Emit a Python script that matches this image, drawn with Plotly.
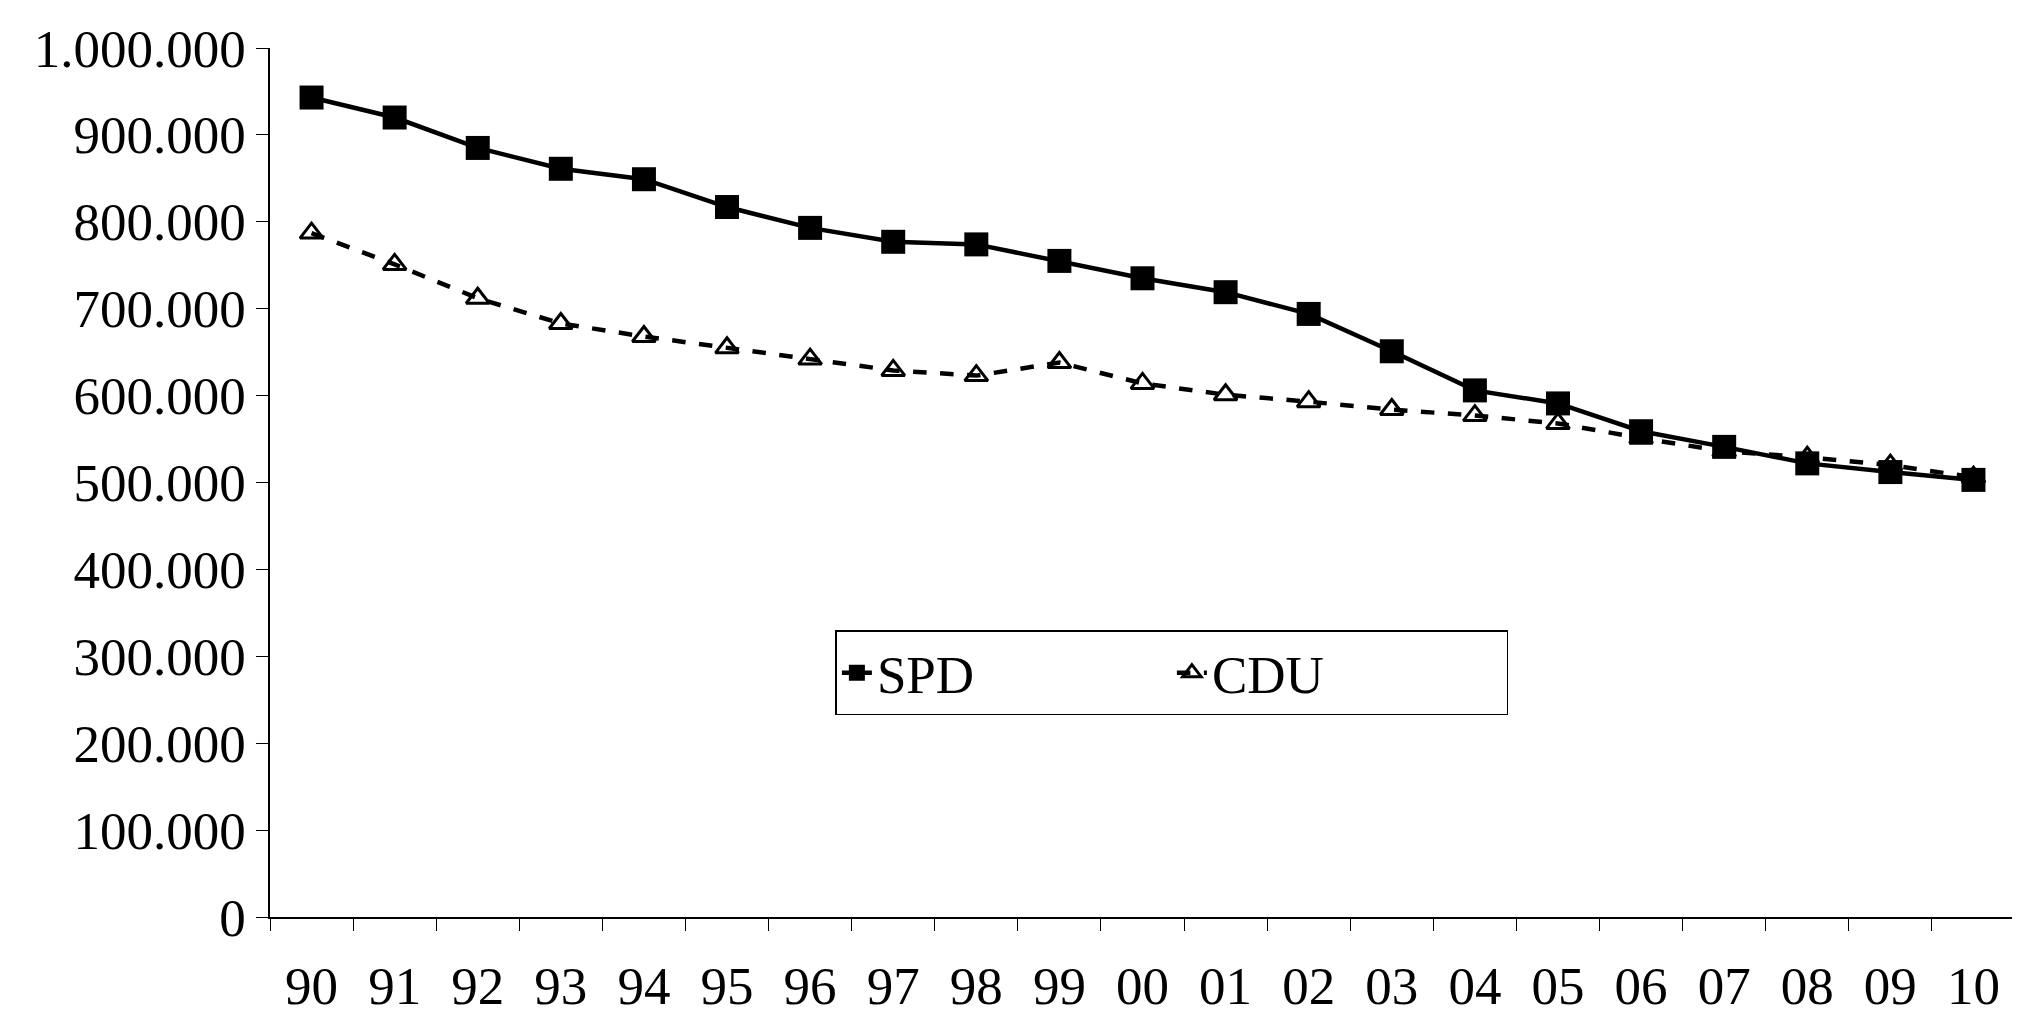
import plotly.graph_objects as go

years = ["90", "91", "92", "93", "94", "95", "96", "97", "98", "99", "00",
         "01", "02", "03", "04", "05", "06", "07", "08", "09", "10"]
spd = [943000, 920000, 885000, 861000, 849000, 817000, 793000, 777000, 774000, 755000, 735000,
       719000, 694000, 651000, 606000, 591000, 559000, 541000, 522000, 512000, 503000]
cdu = [787000, 751000, 712000, 683000, 668000, 655000, 642000, 629000, 623000, 638000, 614000,
       601000, 593000, 584000, 577000, 568000, 551000, 536000, 529000, 520000, 506000]

fig = go.Figure()
fig.add_trace(go.Scatter(x=years, y=spd, name="SPD", mode="lines+markers",
                         line=dict(color="black", width=4.5),
                         marker=dict(symbol="square", size=24, color="black")))
fig.add_trace(go.Scatter(x=years, y=cdu, name="CDU", mode="lines+markers",
                         line=dict(color="black", width=4.5, dash="dash"),
                         marker=dict(symbol="triangle-up-open", size=20, color="black",
                                     line=dict(width=3))))

font = dict(family="Liberation Serif, Times New Roman, serif", size=53, color="black")
fig.update_layout(
    width=2020, height=1019, plot_bgcolor="white", paper_bgcolor="white",
    margin=dict(l=262, r=13, t=38, b=100), font=font, showlegend=True,
    legend=dict(orientation="h", x=0.324, y=0.33, xanchor="left", yanchor="top",
                bordercolor="black", borderwidth=1.5, bgcolor="white",
                font=font, entrywidthmode="pixels", entrywidth=290),
)
fig.update_xaxes(range=[-0.5, 20.5], tickson="boundaries", ticks="outside", ticklen=12,
                 showline=True, linecolor="black", linewidth=1.5, showgrid=False,
                 tickcolor="black", tickfont=font, ticklabelstandoff=22)
fig.update_yaxes(range=[0, 1000000], tickvals=list(range(0, 1000001, 100000)),
                 ticktext=["0"] + [f"{v:,}".replace(",", ".") for v in range(100000, 1000001, 100000)],
                 ticks="outside", ticklen=12, showline=True, linecolor="black", linewidth=1.5,
                 showgrid=False, tickcolor="black", tickfont=font, zeroline=False)
fig.write_html("out.html")
